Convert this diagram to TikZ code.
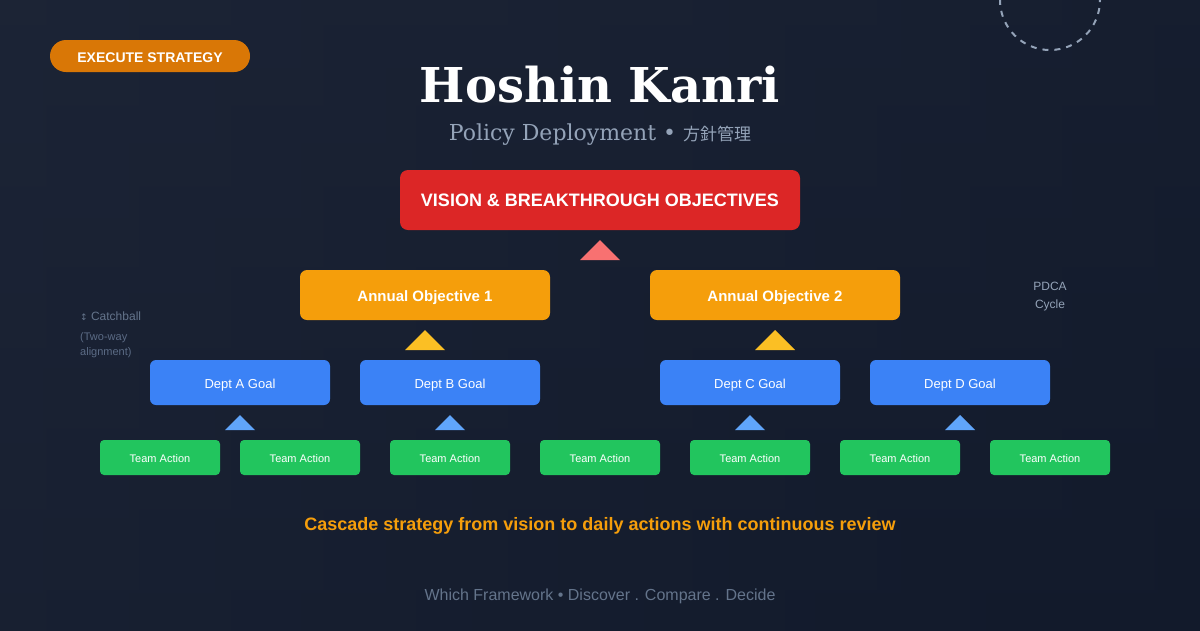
\documentclass[tikz,border=0pt]{standalone}
\usepackage{fontspec}
\setmainfont{DejaVu Serif}
\setsansfont{Liberation Sans}
\newfontfamily\cjkfont{Noto Sans CJK JP}
\newfontfamily\symfont{DejaVu Sans}
\definecolor{bgA}{HTML}{1F2739}
\definecolor{bgB}{HTML}{121A2B}
\definecolor{badge}{HTML}{D97706}
\definecolor{vis}{HTML}{DC2626}
\definecolor{ann}{HTML}{F59E0B}
\definecolor{dept}{HTML}{3B82F6}
\definecolor{team}{HTML}{22C55E}
\definecolor{triR}{HTML}{F87171}
\definecolor{triY}{HTML}{FBBF24}
\definecolor{triB}{HTML}{60A5FA}
\definecolor{subg}{HTML}{94A3B8}
\definecolor{dimg}{HTML}{64748B}
\definecolor{catch}{HTML}{5B6B85}
\tikzset{
  box/.style={inner sep=0pt, text=white, text depth=0pt, font=\sffamily},
  visbox/.style={box, rounded corners=8pt, fill=vis, minimum width=400pt, minimum height=60pt, text height=12pt, font=\sffamily\bfseries\fontsize{18}{20}\selectfont},
  annbox/.style={box, rounded corners=7pt, fill=ann, minimum width=250pt, minimum height=50pt, text height=13.5pt, font=\sffamily\bfseries\fontsize{15}{17}\selectfont},
  deptbox/.style={box, rounded corners=6pt, fill=dept, minimum width=180pt, minimum height=45pt, text height=11.6pt, font=\sffamily\fontsize{13}{15}\selectfont},
  teambox/.style={box, rounded corners=4pt, fill=team, minimum width=120pt, minimum height=35pt, text height=10.4pt, font=\sffamily\fontsize{11}{13}\selectfont},
  lbl/.style={inner sep=0pt, anchor=base},
}
\begin{document}
\begin{tikzpicture}[x=1pt,y=-1pt]
\useasboundingbox (0,0) rectangle (1200,630);
\shade[left color=bgA, right color=bgB] (0,0) rectangle (1200,630);
\shade[top color=bgA!60!bgB, bottom color=bgB, opacity=0.5] (0,0) rectangle (1200,630);
% dashed circle
\begin{scope}
\clip (0,0) rectangle (1200,630);
\draw[subg, line width=2pt, dash pattern=on 6pt off 6pt] (1050,0) circle (50pt);
\end{scope}
% badge
\node[box, rounded corners=16pt, fill=badge, minimum width=200pt, minimum height=32pt, text height=12pt, font=\sffamily\bfseries\fontsize{14}{16}\selectfont] (badge) at (150,56) {EXECUTE STRATEGY};
% title
\node[lbl, text=white, font=\bfseries\fontsize{48}{56}\selectfont] (title) at (600,102) {Hoshin Kanri};
\node[lbl, text=subg, font=\fontsize{22}{26}\selectfont] (sub) at (600,140) {Policy Deployment • {\cjkfont\fontsize{17}{20}\selectfont 方針管理}};
% vision
\node[visbox] (vision) at (600,200) {VISION \& BREAKTHROUGH OBJECTIVES};
\fill[triR] (580,260) -- (600,240) -- (620,260) -- cycle;
% annual
\node[annbox] (ann1) at (425,295) {Annual Objective 1};
\node[annbox] (ann2) at (775,295) {Annual Objective 2};
\fill[triY] (405,350) -- (425,330) -- (445,350) -- cycle;
\fill[triY] (755,350) -- (775,330) -- (795,350) -- cycle;
% dept
\node[deptbox] (deptA) at (240,382.5) {Dept A Goal};
\node[deptbox] (deptB) at (450,382.5) {Dept B Goal};
\node[deptbox] (deptC) at (750,382.5) {Dept C Goal};
\node[deptbox] (deptD) at (960,382.5) {Dept D Goal};
\foreach \x in {240,450,750,960}{
  \fill[triB] (\x-15,430) -- (\x,415) -- (\x+15,430) -- cycle;
}
% teams
\foreach \x/\n in {160/1,300/2,450/3,600/4,750/5,900/6,1050/7}{
  \node[teambox] (team\n) at (\x,457.5) {Team Action};
}
% side notes
\node[inner sep=0pt, anchor=base west, text=dimg, font=\sffamily\fontsize{12}{14}\selectfont] (catch) at (80,320) {{\symfont\fontsize{9}{10}\selectfont ↕} Catchball};
\node[inner sep=0pt, anchor=base west, text=catch, font=\sffamily\fontsize{11}{13}\selectfont] (two) at (80,340) {(Two-way};
\node[inner sep=0pt, anchor=base west, text=catch, font=\sffamily\fontsize{11}{13}\selectfont] (align) at (80,355) {alignment)};
\node[lbl, text=subg, font=\sffamily\fontsize{12}{14}\selectfont] (pdca) at (1050,290) {PDCA};
\node[lbl, text=subg, font=\sffamily\fontsize{12}{14}\selectfont] (cycle) at (1050,308) {Cycle};
% bottom
\node[lbl, text=ann, font=\sffamily\bfseries\fontsize{18}{20}\selectfont] (casc) at (600,530) {Cascade strategy from vision to daily actions with continuous review};
\node[lbl, text=dimg, font=\sffamily\fontsize{16}{18}\selectfont] (foot) at (600,600) {Which Framework • Discover . Compare . Decide};
\end{tikzpicture}
\end{document}
